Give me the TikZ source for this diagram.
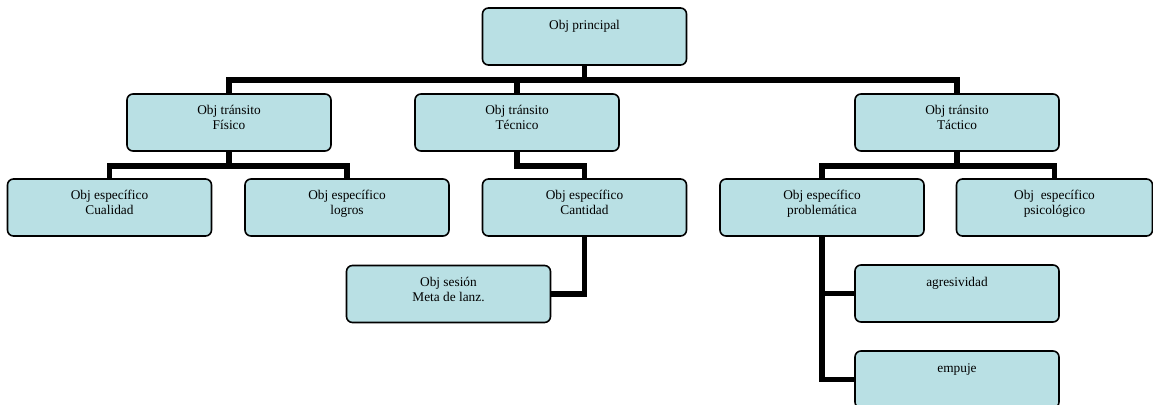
\documentclass[tikz,border=0pt]{standalone}
\usepackage{fontspec}
\setmainfont{Liberation Serif}
\usepackage{tikz}
\usetikzlibrary{backgrounds}
\definecolor{celeste}{RGB}{185,224,228}

\begin{document}
\begin{tikzpicture}[x=0.75pt,y=-0.75pt,
    una linea/.style={text height=16pt,text depth=26.75pt}]
	\useasboundingbox (0,0) rectangle (1153,404);
		\begin{scope}[every node/.style={draw,fill=celeste,line width=1.2pt,rounded corners=4.5pt,
              minimum width=153pt,inner sep=0pt,align=center,text height=26.75pt,text depth=16pt,
              font=\fontsize{10}{11.25}\selectfont}]
    \node[una linea] (principal) at (584.5,36.5) {Obj principal};
    \node (fisico) at (229,122.5) {Obj tránsito\\Físico};
    \node (tecnico) at (517,122.5) {Obj tránsito\\Técnico};
    \node (tactico) at (957,122.5) {Obj tránsito\\Táctico};
    \node (cualidad) at (109.5,207.5) {Obj específico\\Cualidad};
    \node (logros) at (347,207.5) {Obj específico\\logros};
    \node (cantidad) at (584.5,207.5) {Obj específico\\Cantidad};
    \node (problematica) at (822,207.5) {Obj específico\\problemática};
    \node[minimum width=147pt] (psicologico) at (1054.5,207.5) {Obj~~específico\\psicológico};
    \node (sesion) at (448.5,294) {Obj sesión\\Meta de lanz.};
    \node[una linea] (agresividad) at (957,293.5) {agresividad};
    \node[una linea] (empuje) at (957,379.5) {empuje};
	\end{scope}

	\begin{scope}[on background layer,
              every path/.style={draw=black,line width=4.2pt}]
    \path (principal.south) -- ++(0,14) -| (fisico.north);
    \path (principal.south) -- ++(0,14) -| (tecnico.north);
    \path (principal.south) -- ++(0,14) -| (tactico.north);
    \path (fisico.south) -- ++(0,14) -| (cualidad.north);
    \path (fisico.south) -- ++(0,14) -| (logros.north);
    \path (tecnico.south) -- ++(0,14) -| (cantidad.north);
    \path (tactico.south) -- ++(0,14) -| (problematica.north);
    \path (tactico.south) -- ++(0,14) -| (psicologico.north);
    \path (cantidad.south) |- (sesion.east);
    \path (problematica.south) |- (agresividad.west);
    \path (problematica.south) |- (empuje.west);
\end{scope}
\end{tikzpicture}
\end{document}
